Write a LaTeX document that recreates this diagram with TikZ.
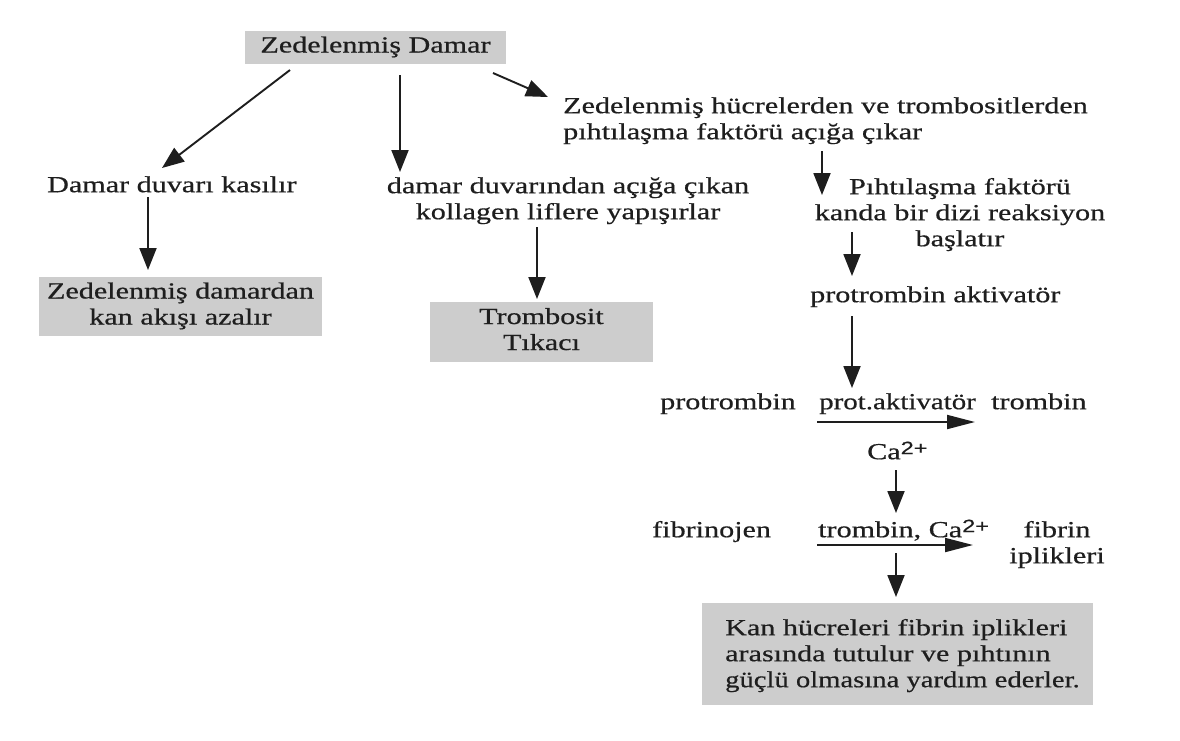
\documentclass[tikz,border=0pt]{standalone}
\usepackage{graphicx}
\usepackage{fontspec}
\setmainfont[FakeStretch=1.31,FakeBold=0.6]{Liberation Serif}
\setsansfont[FakeStretch=1.31,FakeBold=0.4]{Liberation Sans}
\usetikzlibrary{arrows.meta}
\definecolor{boxgray}{RGB}{205,205,205}
\definecolor{ink}{RGB}{30,30,30}
\newcommand\lnst{\rule[-8pt]{0pt}{26pt}}
\newcommand\casup{Ca\raisebox{5pt}{\fontsize{18}{18}\sffamily 2+}}
\begin{document}
\begin{tikzpicture}[x=1pt,y=-1pt,
  txt/.style={inner sep=0pt, font=\fontsize{23}{26}\selectfont, text=ink},
  graybox/.style={txt, fill=boxgray, align=center},
  arr/.style={line width=1.9pt, draw=ink, -{Triangle[length=22pt,width=17pt]}},
  harr/.style={line width=1.9pt, draw=ink, -{Triangle[length=28pt,width=14pt]}}]
\useasboundingbox[fill=white] (0,0) rectangle (1180,740);

% boxes
\node[graybox, minimum width=261pt, minimum height=33pt] (top) at (375.5,47.5) {Zedelenmiş Damar\lnst};
\node[graybox, minimum width=283pt, minimum height=59pt] (azal) at (180.5,306.5) {Zedelenmiş damardan\lnst\\kan akışı azalır\lnst};
\node[graybox, minimum width=223pt, minimum height=60pt] (tikac) at (541.5,332) {Trombosit\lnst\\Tıkacı\lnst};
\node[fill=boxgray, inner sep=0pt, minimum width=391pt, minimum height=102pt] (kan) at (897.5,654) {};
\node[txt, anchor=north west, align=left] (kantxt) at (725,617) {Kan hücreleri fibrin iplikleri\lnst\\arasında tutulur ve pıhtının\lnst\\\scalebox{0.95}[1]{güçlü olmasına yardım ederler.}\lnst};

% texts
\node[txt, anchor=north west] (kas) at (47,174) {Damar duvarı kasılır\lnst};
\node[txt, anchor=north, align=center] (kol) at (568,175) {damar duvarından açığa çıkan\lnst\\kollagen liflere yapışırlar\lnst};
\node[txt, anchor=north west, align=left] (hucre) at (563,95) {Zedelenmiş hücrelerden ve trombositlerden\lnst\\pıhtılaşma faktörü açığa çıkar\lnst};
\node[txt, anchor=north, align=center] (reak) at (960,176) {Pıhtılaşma faktörü\lnst\\kanda bir dizi reaksiyon\lnst\\başlatır\lnst};
\node[txt, anchor=north west] (pakt) at (810,284) {protrombin aktivatör\lnst};
\node[txt, anchor=north west] (prot) at (660,391) {protrombin\lnst};
\node[txt, anchor=north west] (protakt) at (819,391) {\scalebox{0.96}[1]{prot.aktivatör}\lnst};
\node[txt, anchor=north west] (tromb) at (991,391) {trombin\lnst};
\node[txt, anchor=north west] (ca1) at (867,441) {\casup\lnst};
\node[txt, anchor=north west] (fibno) at (652,519) {fibrinojen\lnst};
\node[txt, anchor=north west] (tca) at (818,519) {trombin, \casup\lnst};
\node[txt, anchor=north, align=center] (fibrin) at (1057,519) {fibrin\lnst\\iplikleri\lnst};

% arrow coordinates
\coordinate (a1s) at (290,70);  \coordinate (a1e) at (162,168);
\coordinate (a2s) at (400,75);  \coordinate (a2e) at (400,172);
\coordinate (a3s) at (493,73);  \coordinate (a3e) at (548,97);
\coordinate (a4s) at (148,197); \coordinate (a4e) at (148,270);
\coordinate (a5s) at (537,227); \coordinate (a5e) at (537,299);
\coordinate (a6s) at (822,151); \coordinate (a6e) at (822,195);
\coordinate (a7s) at (852,232); \coordinate (a7e) at (852,276);
\coordinate (a8s) at (852,316); \coordinate (a8e) at (852,388);
\coordinate (h1s) at (817,422); \coordinate (h1e) at (975,422);
\coordinate (a9s) at (896,470); \coordinate (a9e) at (896,513);
\coordinate (h2s) at (817,545); \coordinate (h2e) at (973,545);
\coordinate (a10s) at (896,553); \coordinate (a10e) at (896,597);

\draw[arr] (a1s) -- (a1e);
\draw[arr] (a2s) -- (a2e);
\draw[arr] (a3s) -- (a3e);
\draw[arr] (a4s) -- (a4e);
\draw[arr] (a5s) -- (a5e);
\draw[arr] (a6s) -- (a6e);
\draw[arr] (a7s) -- (a7e);
\draw[arr] (a8s) -- (a8e);
\draw[harr] (h1s) -- (h1e);
\draw[arr] (a9s) -- (a9e);
\draw[harr] (h2s) -- (h2e);
\draw[arr] (a10s) -- (a10e);
\end{tikzpicture}
\end{document}
